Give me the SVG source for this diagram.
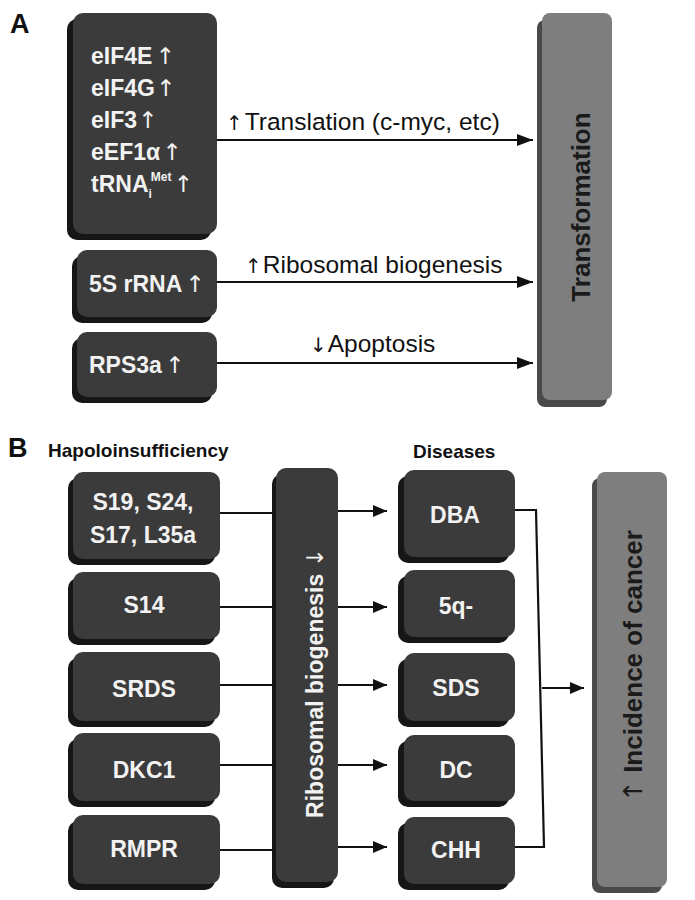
<svg xmlns="http://www.w3.org/2000/svg" width="695" height="900" viewBox="0 0 695 900">
<defs>
<marker id="ah" markerUnits="userSpaceOnUse" markerWidth="16" markerHeight="12" refX="16" refY="6" orient="auto"><path d="M0,0 L16,6 L0,12 z" fill="#111"/></marker>
<marker id="ahs" markerUnits="userSpaceOnUse" markerWidth="14" markerHeight="12" refX="14" refY="6" orient="auto"><path d="M0,0 L14,6 L0,12 z" fill="#111"/></marker>
</defs>
<style>
.sh{fill:#161616}
.fc{fill:#3b3b3b}
.gsh{fill:#4a4a4a}
.gfc{fill:#7e7e7e}
.wt{font-family:"Liberation Sans",Arial,sans-serif;font-weight:bold;font-size:23px;fill:#f2f2f2}
.ct{text-anchor:middle}
.ar{font-family:"DejaVu Sans",sans-serif;font-weight:normal}
.lar{font-family:"DejaVu Sans",sans-serif;font-size:20px}
.lb{font-family:"Liberation Sans",Arial,sans-serif;font-size:24.5px;fill:#111}
.hd{font-family:"Liberation Sans",Arial,sans-serif;font-weight:bold;font-size:19px;fill:#111}
.pl{font-family:"Liberation Sans",Arial,sans-serif;font-weight:bold;font-size:27px;fill:#111}
.bt{font-family:"Liberation Sans",Arial,sans-serif;font-weight:bold;font-size:26px;fill:#1a1a1a;text-anchor:middle}
.ln{stroke:#111;stroke-width:2.2;fill:none}
</style>
<text class="pl" x="10" y="33">A</text>
<text class="pl" x="8" y="457">B</text>
<text class="hd" x="48" y="457">Hapoloinsufficiency</text>
<text class="hd" x="413" y="458">Diseases</text>

<g id="a-box1">
<rect class="sh" x="67" y="19" width="144" height="221" rx="10"/>
<rect class="fc" x="73" y="13" width="144" height="221" rx="10"/>
<text class="wt" x="91" y="64">eIF4E<tspan class="ar" dx="3">↑</tspan></text>
<text class="wt" x="91" y="96">eIF4G<tspan class="ar" dx="1">↑</tspan></text>
<text class="wt" x="91" y="128">eIF3<tspan class="ar" dx="1">↑</tspan></text>
<text class="wt" x="91" y="160">eEF1α<tspan class="ar" dx="2">↑</tspan></text>
<text class="wt" x="91" y="192">tRNA<tspan font-size="12" dy="6">i</tspan><tspan font-size="12" dx="-1" dy="-17">Met</tspan><tspan class="ar" dx="2" dy="11">↑</tspan></text>
</g>
<g id="a-box2">
<rect class="sh" x="72" y="256" width="140" height="67" rx="10"/>
<rect class="fc" x="77" y="250" width="140" height="67" rx="10"/>
<text class="wt" x="89" y="292">5S rRNA<tspan class="ar" dx="3">↑</tspan></text>
</g>
<g id="a-box3">
<rect class="sh" x="72" y="338" width="140" height="65" rx="10"/>
<rect class="fc" x="77" y="332" width="140" height="65" rx="10"/>
<text class="wt" x="89" y="373">RPS3a<tspan class="ar" dx="3">↑</tspan></text>
</g>
<g id="transformation">
<rect class="gsh" x="537" y="20" width="70" height="387" rx="8"/>
<rect class="gfc" x="542" y="13" width="70" height="387" rx="8"/>
<text class="bt" transform="translate(590,207) rotate(-90)">Transformation</text>
</g>

<g id="b-s19">
<rect class="sh" x="68" y="478" width="147" height="87" rx="10"/>
<rect class="fc" x="73" y="472" width="147" height="87" rx="10"/>
<text class="wt ct" x="143" y="510">S19, S24,</text>
<text class="wt ct" x="143" y="543">S17, L35a</text>
</g>
<g id="b-s14">
<rect class="sh" x="68" y="578" width="147" height="67" rx="10"/>
<rect class="fc" x="73" y="572" width="147" height="67" rx="10"/>
<text class="wt ct" x="144" y="613">S14</text>
</g>
<g id="b-srds">
<rect class="sh" x="68" y="658" width="147" height="69" rx="10"/>
<rect class="fc" x="73" y="652" width="147" height="69" rx="10"/>
<text class="wt ct" x="144" y="697">SRDS</text>
</g>
<g id="b-dkc1">
<rect class="sh" x="68" y="739" width="147" height="68" rx="10"/>
<rect class="fc" x="73" y="733" width="147" height="68" rx="10"/>
<text class="wt ct" x="144" y="778">DKC1</text>
</g>
<g id="b-rmpr">
<rect class="sh" x="68" y="821" width="147" height="69" rx="10"/>
<rect class="fc" x="73" y="815" width="147" height="69" rx="10"/>
<text class="wt ct" x="144" y="857">RMPR</text>
</g>
<g id="b-ribo">
<rect class="sh" x="272" y="474" width="62" height="414" rx="10"/>
<rect class="fc" x="276" y="468" width="62" height="414" rx="10"/>
<text class="wt ct" font-size="27" transform="translate(323,683) rotate(-90)">Ribosomal biogenesis <tspan class="ar">↓</tspan></text>
</g>
<g id="b-dba">
<rect class="sh" x="398" y="476" width="111" height="87" rx="10"/>
<rect class="fc" x="404" y="470" width="111" height="87" rx="10"/>
<text class="wt ct" x="455" y="523">DBA</text>
</g>
<g id="b-5q">
<rect class="sh" x="398" y="576" width="111" height="67" rx="10"/>
<rect class="fc" x="404" y="570" width="111" height="67" rx="10"/>
<text class="wt ct" x="456" y="614">5q-</text>
</g>
<g id="b-sds">
<rect class="sh" x="398" y="659" width="111" height="68" rx="10"/>
<rect class="fc" x="404" y="653" width="111" height="68" rx="10"/>
<text class="wt ct" x="456" y="696">SDS</text>
</g>
<g id="b-dc">
<rect class="sh" x="398" y="741" width="111" height="66" rx="10"/>
<rect class="fc" x="404" y="735" width="111" height="66" rx="10"/>
<text class="wt ct" x="456" y="778">DC</text>
</g>
<g id="b-chh">
<rect class="sh" x="398" y="823" width="111" height="67" rx="10"/>
<rect class="fc" x="404" y="817" width="111" height="67" rx="10"/>
<text class="wt ct" x="456" y="858">CHH</text>
</g>
<g id="b-cancer">
<rect class="gsh" x="592" y="478" width="70" height="415" rx="8"/>
<rect class="gfc" x="597" y="472" width="70" height="415" rx="8"/>
<text class="bt" font-size="25" transform="translate(642,666) rotate(-90)"><tspan class="ar">↑</tspan> Incidence of cancer</text>
</g>

<g id="connectors">
<line class="ln" x1="217" y1="140" x2="533" y2="140" marker-end="url(#ah)"/>
<line class="ln" x1="217" y1="282" x2="533" y2="282" marker-end="url(#ah)"/>
<line class="ln" x1="217" y1="363" x2="533" y2="363" marker-end="url(#ah)"/>
<text class="lb" x="226" y="130"><tspan class="lar">↑</tspan><tspan dx="2">Translation (c-myc, etc)</tspan></text>
<text class="lb" x="245" y="273"><tspan class="lar">↑</tspan><tspan dx="1">Ribosomal biogenesis</tspan></text>
<text class="lb" x="310" y="352"><tspan class="lar">↓</tspan><tspan dx="1">Apoptosis</tspan></text>
<line class="ln" x1="220" y1="513" x2="273" y2="513"/>
<line class="ln" x1="220" y1="607" x2="273" y2="607"/>
<line class="ln" x1="220" y1="685" x2="273" y2="685"/>
<line class="ln" x1="220" y1="765" x2="273" y2="765"/>
<line class="ln" x1="220" y1="850" x2="273" y2="850"/>
<line class="ln" x1="338" y1="511" x2="387" y2="511" marker-end="url(#ahs)"/>
<line class="ln" x1="338" y1="607" x2="387" y2="607" marker-end="url(#ahs)"/>
<line class="ln" x1="338" y1="685" x2="387" y2="685" marker-end="url(#ahs)"/>
<line class="ln" x1="338" y1="765" x2="387" y2="765" marker-end="url(#ahs)"/>
<line class="ln" x1="338" y1="847" x2="387" y2="847" marker-end="url(#ahs)"/>
<path class="ln" d="M515,510 H536 L544,847 H515"/>
<line class="ln" x1="542" y1="688" x2="584" y2="688" marker-end="url(#ahs)"/>
</g>
</svg>
